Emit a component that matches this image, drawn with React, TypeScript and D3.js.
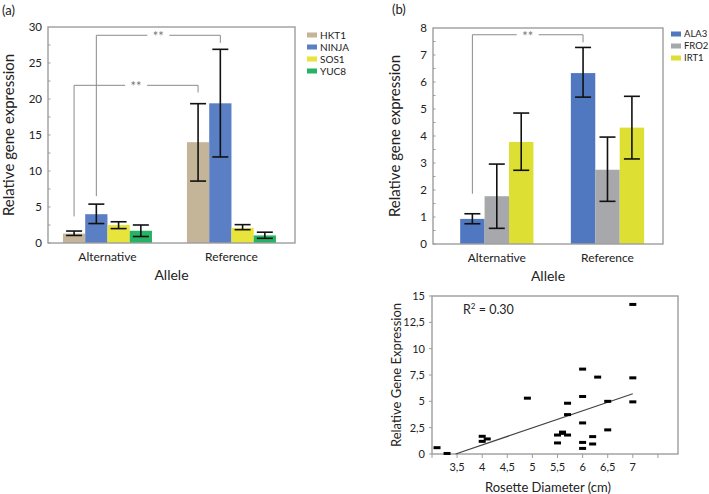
import React from 'react';
import * as d3 from 'd3';

// panel (a)
const allelesA = ['Alternative', 'Reference'];
const genesA = ['HKT1', 'NINJA', 'SOS1', 'YUC8'];
const colorsA = ['#c4b498', '#5a7fc4', '#e8e43c', '#27b366'];
const meanA = [
  [1.3, 4.0, 2.5, 1.7],
  [14.0, 19.4, 2.1, 1.05],
];
const lowA = [
  [1.05, 2.7, 2.0, 0.9],
  [8.6, 11.95, 1.85, 0.65],
];
const highA = [
  [1.66, 5.4, 2.95, 2.5],
  [19.35, 26.9, 2.55, 1.5],
];
const ticksA = [0, 5, 10, 15, 20, 25, 30];
// brackets: gene index, bar height, left foot, right foot
const bracketGeneA = [1, 0];
const bracketTopA = [28.85, 21.9];
const bracketLeftA = [6.5, 3.7];
const bracketRightA = [27.8, 20.9];

// panel (b)
const allelesB = ['Alternative', 'Reference'];
const genesB = ['ALA3', 'FRO2', 'IRT1'];
const colorsB = ['#5078c0', '#a7a8ac', '#dedf33'];
const meanB = [
  [0.93, 1.77, 3.78],
  [6.33, 2.75, 4.31],
];
const lowB = [
  [0.75, 0.58, 2.73],
  [5.44, 1.58, 3.15],
];
const highB = [
  [1.12, 2.96, 4.85],
  [7.28, 3.96, 5.47],
];
const ticksB = [0, 1, 2, 3, 4, 5, 6, 7, 8];
const bracketGeneB = [0];
const bracketTopB = [7.75];
const bracketLeftB = [1.86];
const bracketRightB = [7.47];

// scatter
const diameter = [3.1, 3.3, 4.0, 4.0, 4.1, 4.9, 5.5, 5.5, 5.6, 5.6, 5.7, 5.7, 5.7,
  6.0, 6.0, 6.0, 6.0, 6.0, 6.2, 6.2, 6.3, 6.5, 6.5, 7.0, 7.0, 7.0];
const expression = [0.6, 0.05, 1.68, 1.2, 1.43, 5.3, 1.8, 1.05, 1.96, 2.08, 1.8, 3.74, 4.82,
  8.06, 5.46, 2.95, 1.1, 0.53, 1.65, 0.95, 7.3, 5.0, 2.29, 14.2, 7.23, 4.95];
const xTicksS = [3, 3.5, 4, 4.5, 5, 5.5, 6, 6.5, 7, 7.5];
const xLabelsS = [3.5, 4, 4.5, 5, 5.5, 6, 6.5, 7];
const yTicksS = [0, 2.5, 5, 7.5, 10, 12.5, 15];
const fitSlope = 1.62;
const fitIntercept = -5.62;
const fitRange = [3.47, 7.0];

const font = 'Lato, "Open Sans", sans-serif';
const frameColor = '#9d9d9d';
const comma = (v: number) => String(v).replace('.', ',');

interface BarPanelProps {
  left: number; right: number; top: number; bottom: number;
  max: number; ticks: number[];
  alleles: string[]; genes: string[]; colors: string[];
  mean: number[][]; low: number[][]; high: number[][];
  inner: number; outer: number; align: number;
  bGene: number[]; bTop: number[]; bLeft: number[]; bRight: number[];
  legendX: number; legendY: number; legendSize: number;
  titleX: number;
}

function BarPanel(p: BarPanelProps) {
  const y = d3.scaleLinear().domain([0, p.max]).range([p.bottom, p.top]);
  const x0 = d3.scaleBand().domain(p.alleles).range([p.left, p.right])
    .paddingInner(p.inner).paddingOuter(p.outer).align(p.align);
  const x1 = d3.scaleBand().domain(p.genes).range([0, x0.bandwidth()]);
  const bw = x1.bandwidth();
  const cap = 8;
  const cx = (a: number, g: number) => (x0(p.alleles[a]) as number) + (x1(p.genes[g]) as number) + bw / 2;
  const minor = d3.range(0, p.max, (p.ticks[1] - p.ticks[0]) / 2);

  return (
    <g>
      {p.alleles.map((a, ai) => p.genes.map((g, gi) => (
        <rect key={a + g} x={(x0(a) as number) + (x1(g) as number)} width={bw}
          y={y(p.mean[ai][gi])} height={p.bottom - y(p.mean[ai][gi])} fill={p.colors[gi]} />
      )))}
      {p.alleles.map((a, ai) => p.genes.map((g, gi) => {
        const c = cx(ai, gi);
        return (
          <g key={'e' + a + g} stroke="#111" strokeWidth={1.6}>
            <line x1={c} x2={c} y1={y(p.low[ai][gi])} y2={y(p.high[ai][gi])} />
            <line x1={c - cap} x2={c + cap} y1={y(p.low[ai][gi])} y2={y(p.low[ai][gi])} />
            <line x1={c - cap} x2={c + cap} y1={y(p.high[ai][gi])} y2={y(p.high[ai][gi])} />
          </g>
        );
      }))}
      {p.bGene.map((g, i) => {
        const xa = cx(0, g);
        const xb = cx(1, g);
        const yt = y(p.bTop[i]);
        const mid = (xa + xb) / 2;
        return (
          <g key={'b' + i}>
            <path d={`M${xa},${y(p.bLeft[i])}V${yt}H${xb}V${y(p.bRight[i])}`}
              fill="none" stroke="#8a8a8a" strokeWidth={1} />
            <rect x={mid - 11} y={yt - 3} width={22} height={6} fill="#fff" />
            <text x={mid} y={yt + 6} textAnchor="middle" fontSize={13} fill="#777">**</text>
          </g>
        );
      })}
      <rect x={p.left} y={p.top} width={p.right - p.left} height={p.bottom - p.top}
        fill="none" stroke={frameColor} strokeWidth={1.4} />
      {minor.map((t) => (
        <line key={'m' + t} x1={p.left} x2={p.left + 2.5} y1={y(t)} y2={y(t)} stroke={frameColor} strokeWidth={1} />
      ))}
      {p.ticks.map((t) => (
        <text key={'t' + t} x={p.left - 6} y={y(t)} dy="0.35em" textAnchor="end" fontSize={11.5} fill="#222">{t}</text>
      ))}
      {p.alleles.map((a) => (
        <text key={'c' + a} x={(x0(a) as number) + x0.bandwidth() / 2} y={p.bottom + 18}
          textAnchor="middle" fontSize={12} fill="#222">{a}</text>
      ))}
      <text x={(p.left + p.right) / 2} y={p.bottom + 37} textAnchor="middle" fontSize={14} fill="#222">Allele</text>
      <text transform={`translate(${p.titleX},${(p.top + p.bottom) / 2}) rotate(-90)`}
        textAnchor="middle" dy="0.35em" fontSize={15} fill="#222">Relative gene expression</text>
      {p.genes.map((g, gi) => (
        <g key={'l' + g}>
          <rect x={p.legendX} y={p.legendY + gi * 12 - 2.5} width={10} height={5} fill={p.colors[gi]} />
          <text x={p.legendX + 13} y={p.legendY + gi * 12} dy="0.35em" fontSize={p.legendSize} fill="#222">{g}</text>
        </g>
      ))}
    </g>
  );
}

function Scatter() {
  const left = 432, right = 678, top = 296, bottom = 454;
  const x = d3.scaleLinear().domain([3, 7.9]).range([left, right]);
  const y = d3.scaleLinear().domain([0, 15]).range([bottom, top]);
  const fit = d3.line<number>().x((d) => x(d)).y((d) => y(fitIntercept + fitSlope * d));
  return (
    <g>
      <rect x={left} y={top} width={right - left} height={bottom - top}
        fill="none" stroke={frameColor} strokeWidth={1.4} />
      {xTicksS.map((t) => (
        <line key={'xt' + t} x1={x(t)} x2={x(t)} y1={bottom} y2={bottom + 4} stroke={frameColor} strokeWidth={1} />
      ))}
      {xLabelsS.map((t) => (
        <text key={'xl' + t} x={x(t)} y={bottom + 17} textAnchor="middle" fontSize={11} fill="#222">{comma(t)}</text>
      ))}
      {yTicksS.map((t) => (
        <g key={'yt' + t}>
          <line x1={left - 3} x2={left} y1={y(t)} y2={y(t)} stroke={frameColor} strokeWidth={1} />
          <text x={left - 7} y={y(t)} dy="0.35em" textAnchor="end" fontSize={11} fill="#222">{comma(t)}</text>
        </g>
      ))}
      <path d={fit(fitRange) as string} fill="none" stroke="#444" strokeWidth={1.2} />
      {diameter.map((d, i) => (
        <rect key={'p' + i} x={x(d) - 3.5} y={y(expression[i]) - 1.5} width={7} height={3} fill="#000" />
      ))}
      <text x={463} y={314} fontSize={12.5} fill="#222">
        R<tspan dy={-5} fontSize={8}>2</tspan><tspan dy={5}> = 0.30</tspan>
      </text>
      <text transform={`translate(396,${(top + bottom) / 2}) rotate(-90)`} textAnchor="middle" dy="0.35em"
        fontSize={13} fill="#222">Relative Gene Expression</text>
      <text x={548} y={492} textAnchor="middle" fontSize={13} fill="#222">Rosette Diameter (cm)</text>
    </g>
  );
}

export default function App() {
  return (
    <svg width={709} height={494} style={{ position: 'absolute', left: 0, top: 0, background: '#fff' }}
      fontFamily={font}>
      <rect width={709} height={494} fill="#fff" />
      <text x={2} y={15} fontSize={13} fill="#222">(a)</text>
      <text x={392} y={14} fontSize={13} fill="#222">(b)</text>
      <BarPanel left={48} right={295} top={27} bottom={243} max={30} ticks={ticksA}
        alleles={allelesA} genes={genesA} colors={colorsA} mean={meanA} low={lowA} high={highA}
        inner={0.282} outer={0.137} align={0.44}
        bGene={bracketGeneA} bTop={bracketTopA} bLeft={bracketLeftA} bRight={bracketRightA}
        legendX={307} legendY={35} legendSize={10} titleX={9} />
      <BarPanel left={433} right={663} top={28} bottom={244} max={8} ticks={ticksB}
        alleles={allelesB} genes={genesB} colors={colorsB} mean={meanB} low={lowB} high={highB}
        inner={0.338} outer={0.208} align={0.59}
        bGene={bracketGeneB} bTop={bracketTopB} bLeft={bracketLeftB} bRight={bracketRightB}
        legendX={671} legendY={34} legendSize={9.5} titleX={395} />
      <Scatter />
    </svg>
  );
}
